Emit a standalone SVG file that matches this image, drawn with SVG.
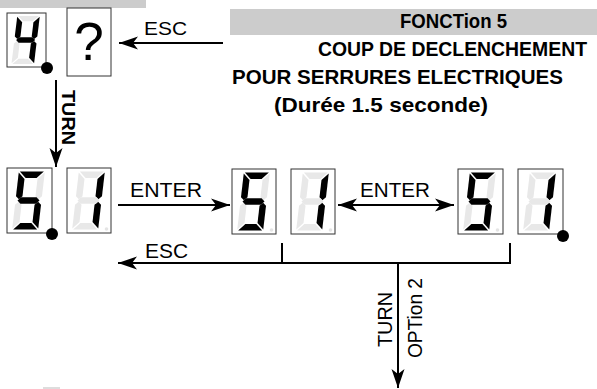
<svg xmlns="http://www.w3.org/2000/svg" width="597" height="389" viewBox="0 0 597 389">
<style>
.box{fill:#fff;stroke:#333;stroke-width:1}
.on{fill:#000}
.off{fill:#e8e8e8}
.dp{fill:#e4e4e4}
.ln{fill:none;stroke:#000;stroke-width:2}
.hd{font-family:"Liberation Sans",Arial,sans-serif;font-weight:bold;fill:#000}
.lb{font-family:"Liberation Sans",Arial,sans-serif;fill:#000}
</style>
<defs>
<path id="sa" d="M-12,-29 L12,-29 L5.5,-22.5 L-5.5,-22.5Z"/>
<path id="sb" d="M13,-28 L13,-4.2 L9.75,-1.2 L6.5,-4.2 L6.5,-21.5Z"/>
<path id="sc" d="M13,28 L13,4.2 L9.75,1.2 L6.5,4.2 L6.5,21.5Z"/>
<path id="sd" d="M-12,29 L12,29 L5.5,22.5 L-5.5,22.5Z"/>
<path id="se" d="M-13,28 L-13,4.2 L-9.75,1.2 L-6.5,4.2 L-6.5,21.5Z"/>
<path id="sf" d="M-13,-28 L-13,-4.2 L-9.75,-1.2 L-6.5,-4.2 L-6.5,-21.5Z"/>
<path id="sg" d="M-11,0 L-7.75,-3.2 L7.75,-3.2 L11,0 L7.75,3.2 L-7.75,3.2Z"/>
<g id="d5"><use href="#sa" class="on"/><use href="#sb" class="off"/><use href="#sc" class="on"/><use href="#sd" class="on"/><use href="#se" class="off"/><use href="#sf" class="on"/><use href="#sg" class="on"/></g>
<g id="d1"><use href="#sa" class="off"/><use href="#sb" class="on"/><use href="#sc" class="on"/><use href="#sd" class="off"/><use href="#se" class="off"/><use href="#sf" class="off"/><use href="#sg" class="off"/></g>
<g id="d4"><use href="#sa" class="off"/><use href="#sb" class="on"/><use href="#sc" class="on"/><use href="#sd" class="off"/><use href="#se" class="off"/><use href="#sf" class="on"/><use href="#sg" class="on"/></g>
<marker id="ah" viewBox="-19 -7 21 14" refX="0" refY="0" markerWidth="21" markerHeight="14" markerUnits="userSpaceOnUse" orient="auto-start-reverse">
<path d="M0,0 L-19,-6.5 L-14,0 L-19,6.5Z" fill="#000"/>
</marker>
</defs>

<rect x="0" y="0" width="146" height="8" fill="#cccccc"/>
<rect x="230" y="9" width="367" height="26" fill="#cccccc"/>
<rect x="43" y="387" width="17" height="2" fill="#dddddd"/>

<g id="title">
<text class="hd" x="400" y="28" font-size="20.5" textLength="107" lengthAdjust="spacingAndGlyphs">FONCTion 5</text>
<text class="hd" x="318" y="56" font-size="19.5" textLength="269" lengthAdjust="spacingAndGlyphs">COUP DE DECLENCHEMENT</text>
<text class="hd" x="232" y="84" font-size="20.5" textLength="331" lengthAdjust="spacingAndGlyphs">POUR SERRURES ELECTRIQUES</text>
<text class="hd" x="274" y="112" font-size="20.5" textLength="214" lengthAdjust="spacingAndGlyphs">(Durée 1.5 seconde)</text>
</g>

<g id="n-4">
<rect class="box" x="7" y="13" width="39" height="54"/>
<g transform="translate(7,13) scale(0.867,0.83) translate(21.5,32.5) skewX(-6.6)"><use href="#d4"/></g>
<circle cx="47" cy="68" r="6" fill="#000"/>
</g>
<g id="n-q">
<rect class="box" x="67" y="8" width="44" height="68"/>
<text class="lb" x="89" y="60" font-size="53" text-anchor="middle">?</text>
</g>

<g id="n-51a">
<rect class="box" x="7" y="168" width="45" height="65"/>
<g transform="translate(28.5,200.5) skewX(-6.6)"><use href="#d5"/></g>
<circle cx="52" cy="234" r="6" fill="#000"/>
</g>
<g id="n-51b">
<rect class="box" x="67" y="168" width="44" height="65"/>
<g transform="translate(88.5,200.5) skewX(-6.6)"><use href="#d1"/></g>
<circle class="dp" cx="106.5" cy="229" r="1.8"/>
</g>
<g id="n-52a">
<rect class="box" x="232" y="169" width="44" height="65"/>
<g transform="translate(253.5,201.5) skewX(-6.6)"><use href="#d5"/></g>
<circle class="dp" cx="271.5" cy="230" r="1.8"/>
</g>
<g id="n-52b">
<rect class="box" x="291" y="169" width="44" height="65"/>
<g transform="translate(312.5,201.5) skewX(-6.6)"><use href="#d1"/></g>
<circle class="dp" cx="330.5" cy="230" r="1.8"/>
</g>
<g id="n-53a">
<rect class="box" x="458" y="169" width="45" height="65"/>
<g transform="translate(479.5,201.5) skewX(-6.6)"><use href="#d5"/></g>
<circle class="dp" cx="497.5" cy="230" r="1.8"/>
</g>
<g id="n-53b">
<rect class="box" x="518" y="169" width="45" height="65"/>
<g transform="translate(539.5,201.5) skewX(-6.6)"><use href="#d1"/></g>
<circle cx="563" cy="236" r="6" fill="#000"/>
</g>

<g id="connectors">
<line class="ln" x1="223" y1="43" x2="119" y2="43" marker-end="url(#ah)"/>
<text class="lb" x="144" y="35" font-size="19" textLength="43" lengthAdjust="spacingAndGlyphs">ESC</text>

<line class="ln" x1="56" y1="80" x2="56" y2="167" marker-end="url(#ah)"/>
<text class="hd" transform="translate(62,90) rotate(90)" font-size="19" textLength="55" lengthAdjust="spacingAndGlyphs">TURN</text>

<line class="ln" x1="118" y1="205" x2="230" y2="205" marker-end="url(#ah)"/>
<text class="lb" x="130" y="197" font-size="20" textLength="72" lengthAdjust="spacingAndGlyphs">ENTER</text>

<line class="ln" x1="338" y1="205" x2="454" y2="205" marker-start="url(#ah)" marker-end="url(#ah)"/>
<text class="lb" x="360" y="197" font-size="20" textLength="70" lengthAdjust="spacingAndGlyphs">ENTER</text>

<polyline class="ln" points="510,243 510,263 118,263" marker-end="url(#ah)"/>
<line class="ln" x1="282" y1="243" x2="282" y2="263"/>
<text class="lb" x="145" y="258" font-size="20" textLength="43" lengthAdjust="spacingAndGlyphs">ESC</text>

<line class="ln" x1="398" y1="263" x2="398" y2="388" marker-end="url(#ah)"/>
<text class="lb" transform="translate(392,347) rotate(-90)" font-size="21" textLength="55" lengthAdjust="spacingAndGlyphs">TURN</text>
<text class="lb" transform="translate(422,358) rotate(-90)" font-size="20" textLength="80" lengthAdjust="spacingAndGlyphs">OPTion 2</text>
</g>
</svg>
